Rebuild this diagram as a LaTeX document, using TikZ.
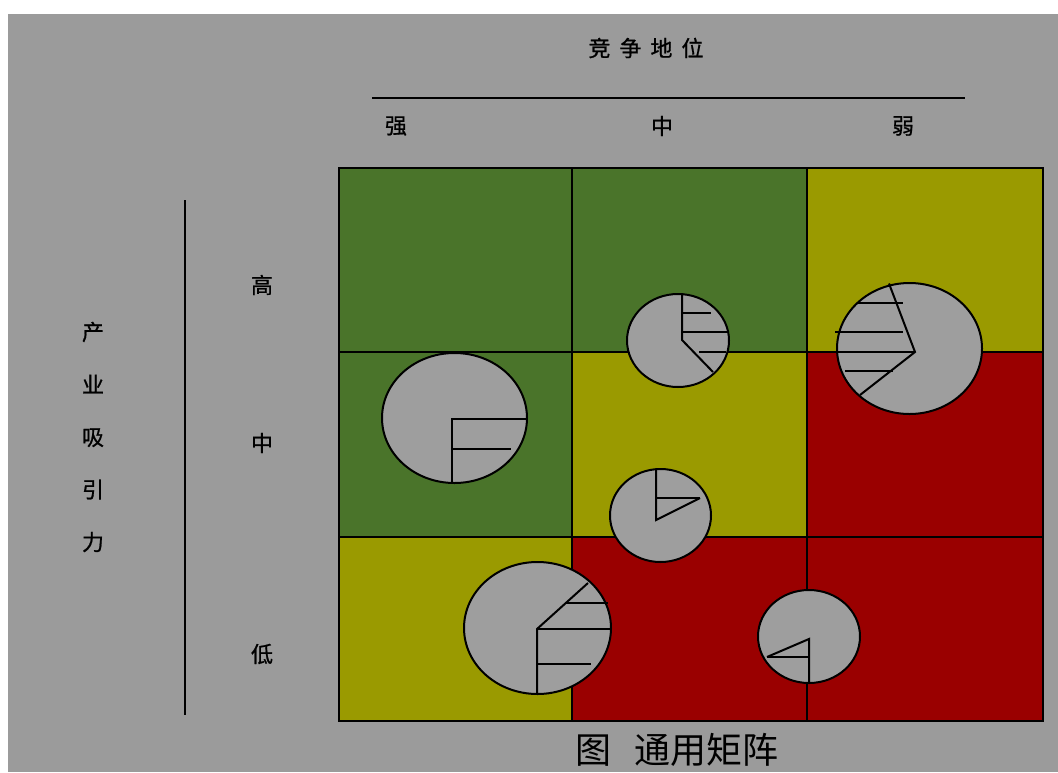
\documentclass[tikz,border=0pt]{standalone}
\usepackage{fontspec}
\newfontfamily\cjk{Noto Sans CJK SC}
\newfontfamily\cjkb[FakeBold=0.8]{Noto Sans CJK SC}
\definecolor{bg}{HTML}{9B9B9B}
\definecolor{cgreen}{HTML}{4A742A}
\definecolor{cyellow}{HTML}{9A9A00}
\definecolor{cred}{HTML}{9A0000}
\definecolor{piegray}{HTML}{9E9E9E}
\tikzset{
  gridline/.style={draw=black, line width=2pt},
  axisline/.style={draw=black, line width=2pt},
  pie/.style={fill=piegray, draw=black, line width=2pt},
  hatch/.style={draw=black, line width=2pt},
  lbl/.style={inner sep=0pt, font=\cjkb\fontsize{22}{22}\selectfont},
}
\begin{document}
\begin{tikzpicture}[x=1pt,y=-1pt]
\useasboundingbox (0,0) rectangle (1058,772);
\fill[white] (0,0) rectangle (1058,772);
\fill[bg] (8,14) rectangle (1058,772);

% cells
\fill[cgreen]  (339,168) rectangle (572,352);
\fill[cgreen]  (572,168) rectangle (807,352);
\fill[cyellow] (807,168) rectangle (1043,352);
\fill[cgreen]  (339,352) rectangle (572,537);
\fill[cyellow] (572,352) rectangle (807,537);
\fill[cred]    (807,352) rectangle (1043,537);
\fill[cyellow] (339,537) rectangle (572,721);
\fill[cred]    (572,537) rectangle (807,721);
\fill[cred]    (807,537) rectangle (1043,721);
% grid
\draw[gridline] (339,168) rectangle (1043,721);
\draw[gridline] (572,168) -- (572,721);
\draw[gridline] (807,168) -- (807,721);
\draw[gridline] (339,352) -- (1043,352);
\draw[gridline] (339,537) -- (1043,537);

% axis lines
\coordinate (tl) at (372,98);
\coordinate (tr) at (965,98);
\draw[axisline] (tl) -- (tr);
\coordinate (lt) at (185,200);
\coordinate (lb) at (185,715);
\draw[axisline] (lt) -- (lb);

% labels
\node[lbl] (title) at (646,48) {竞\hspace{9pt}争\hspace{9pt}地\hspace{9pt}位};
\node[lbl] (strong) at (396,126) {强};
\node[lbl] (mid) at (662,126) {中};
\node[lbl] (weak) at (903,126) {弱};
\node[lbl] (high) at (262,285) {高};
\node[lbl] (med) at (262,443) {中};
\node[lbl] (low) at (262,654) {低};
\node[lbl, align=center, font=\cjkb\fontsize{22}{52.5}\selectfont] (attr) at (93,437) {产\\业\\吸\\引\\力};
\node[inner sep=0pt, font=\cjk\fontsize{36}{36}\selectfont] (cap) at (677,750) {图\hspace{0.65em}通用矩阵};

% pie 1 (strong / medium)
\draw[pie] (454.5,418) ellipse [x radius=72.5, y radius=65];
\draw[hatch] (452,483) -- (452,419) -- (527,419);
\draw[hatch] (452,449) -- (511,449);

% pie 2 (medium / high)
\draw[pie] (678,340.5) ellipse [x radius=51, y radius=46.5];
\draw[hatch] (682,294.5) -- (682,340) -- (713,372);
\draw[hatch] (682,313) -- (711,313);
\draw[hatch] (682,332) -- (728,332);
\draw[hatch] (699,352) -- (726,352);

% pie 3 (weak / high)
\draw[pie] (909.5,348.5) ellipse [x radius=72.5, y radius=65.5];
\draw[hatch] (889,283.5) -- (915,352) -- (860,395);
\draw[hatch] (858,303) -- (903,303);
\draw[hatch] (835,332) -- (903,332);
\draw[hatch] (837,352) -- (915,352);
\draw[hatch] (845,371) -- (893,371);

% pie 4 (medium / medium)
\draw[pie] (660.5,515.5) ellipse [x radius=50.5, y radius=46.5];
\draw[hatch] (656,469) -- (656,520) -- (700,498);
\draw[hatch] (656,498) -- (700,498);

% pie 5 (strong / low)
\draw[pie] (537.5,628) ellipse [x radius=73.5, y radius=66];
\draw[hatch] (537,694) -- (537,629) -- (588,583);
\draw[hatch] (565,603) -- (608,603);
\draw[hatch] (537,629) -- (611,629);
\draw[hatch] (537,664) -- (591,664);

% pie 6 (weak / low)
\draw[pie] (809,636.5) ellipse [x radius=51, y radius=46.5];
\draw[hatch] (809,683) -- (809,639) -- (767,657);
\draw[hatch] (767,657) -- (809,657);
\end{tikzpicture}
\end{document}
